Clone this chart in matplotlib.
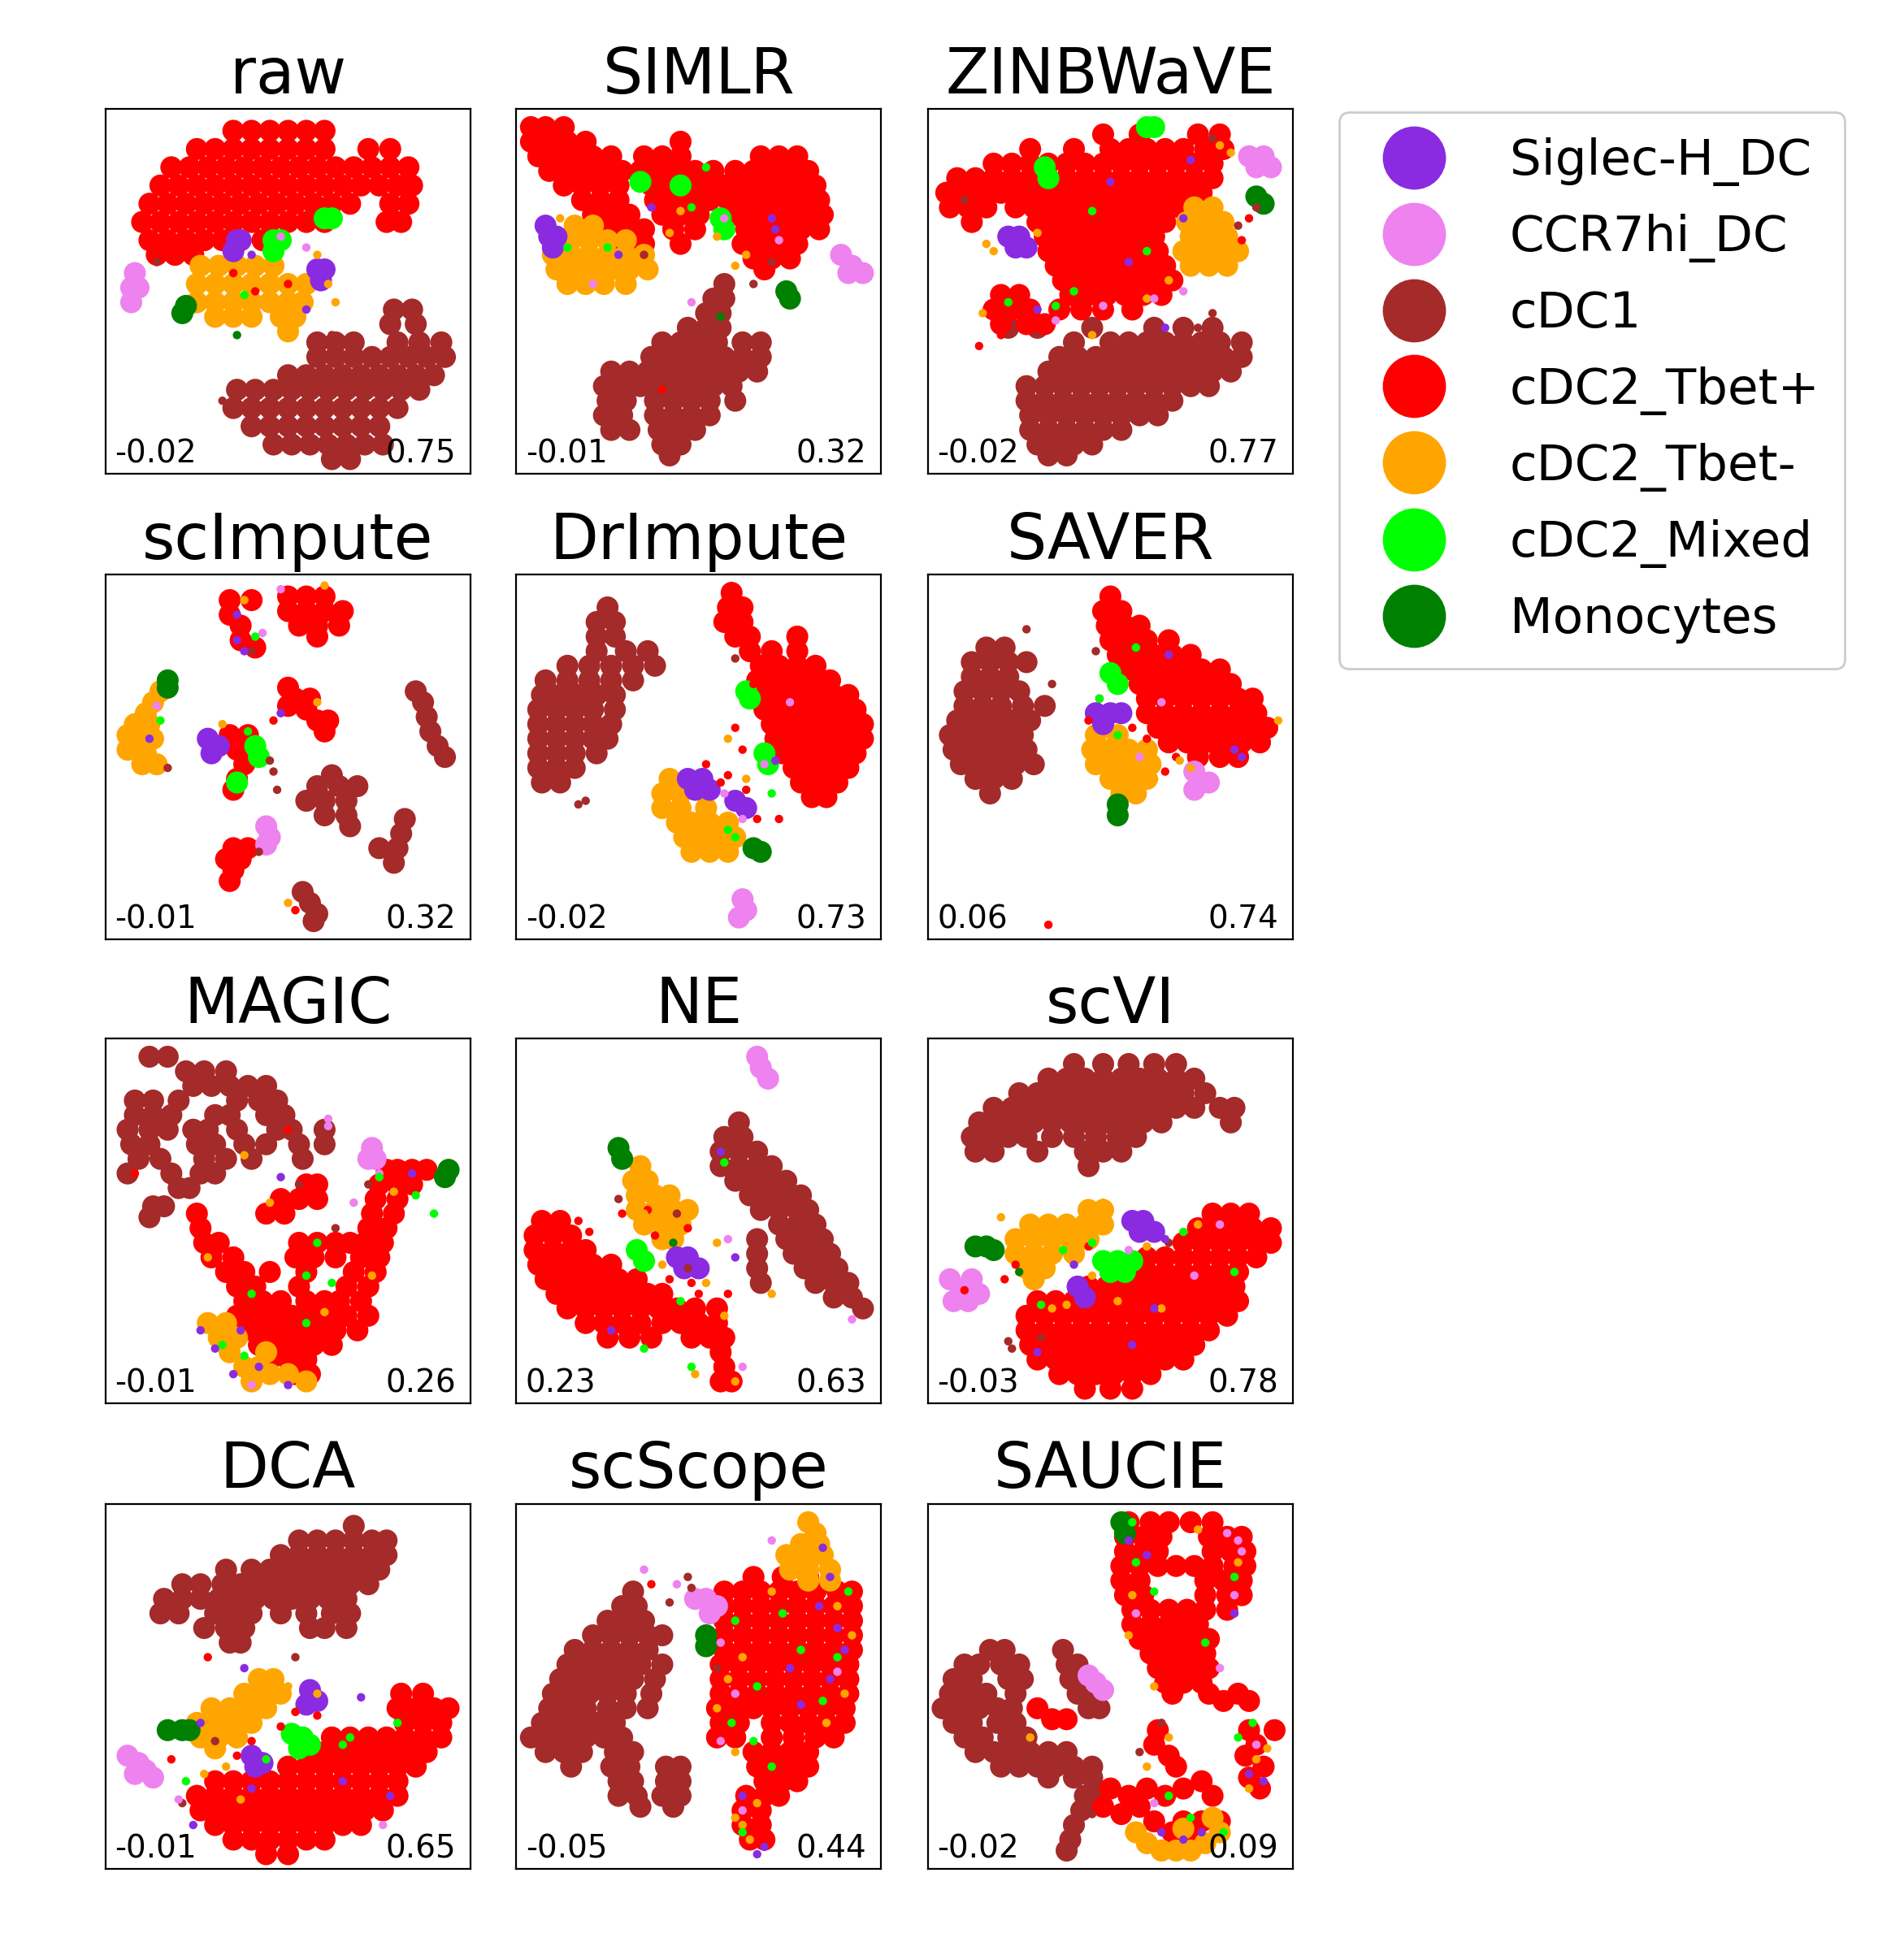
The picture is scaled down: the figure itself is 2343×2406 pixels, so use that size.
import matplotlib
matplotlib.use("Agg")
import matplotlib.pyplot as plt
from matplotlib.lines import Line2D

# cell types and their colours (legend order)
CLASSES = ["Siglec-H_DC", "CCR7hi_DC", "cDC1", "cDC2_Tbet+", "cDC2_Tbet-", "cDC2_Mixed", "Monocytes"]
KEYS = ["sig", "ccr", "c1", "tp", "tm", "mix", "mono"]
COLORS = ["blueviolet", "violet", "brown", "red", "orange", "lime", "green"]
DRAW_ORDER = ["c1", "tp", "tm", "sig", "ccr", "mix", "mono"]

METHODS = ["raw", "SIMLR", "ZINBWaVE", "scImpute", "DrImpute", "SAVER",
           "MAGIC", "NE", "scVI", "DCA", "scScope", "SAUCIE"]
LEFT_SCORES = ["-0.02", "-0.01", "-0.02", "-0.01", "-0.02", "0.06",
               "-0.01", "0.23", "-0.03", "-0.01", "-0.05", "-0.02"]
RIGHT_SCORES = ["0.75", "0.32", "0.77", "0.32", "0.73", "0.74",
                "0.26", "0.63", "0.78", "0.65", "0.44", "0.09"]

# embedding points, panel coords 0-100
# format "y: x x x; y: x x ..."  (dense cluster cores)
RAW = {
    "c1": "45: 79 84; 41: 78 85; 36: 58 63 68 80 86 92; 32: 58 63 68 73 78 83 88 93; 27: 50 55 60 65 70 75 80 85 90; 23: 36 41 46 51 56 61 66 71 76 81 86; 18: 35 40 45 50 55 60 65 70 75 80; 13: 40 45 50 55 60 65 70 75; 8: 46 51 56 61 66 71 76; 4: 62 67",
    "tp": "94: 35 40 45 50 55 60; 89: 25 30 35 40 45 50 55 60 72 78; 84: 18 23 28 33 38 43 48 53 58 63 68 73 78 83; 79: 15 20 25 30 35 40 45 50 55 60 65 70 75 80 84; 74: 12 17 22 27 32 37 42 47 52 57 62 67 78 83; 69: 10 15 20 25 30 35 40 45 50 55 60 77 81; 64: 12 17 22 27 32 37 43; 60: 14 19 24",
    "tm": "57: 26 31 36 41 46; 52: 25 30 35 40 45 50 55; 47: 25 30 35 40 45 50 54; 43: 30 35 40 48 52; 39: 50",
    "sig": "64: 36 37; 61: 35; 56: 58 60; 53: 59",
    "ccr": "55: 8; 51: 7 9; 47: 7",
    "mix": "70: 60 62; 64: 46 48; 61: 46",
    "mono": "46: 22; 44: 21",
}
SIMLR = {
    "c1": "52: 57; 48: 54 57; 44: 52 56; 40: 47 52 56; 36: 40 45 50 55 62 67; 32: 37 42 47 52 57 62 67; 28: 26 31 36 41 46 51 56 61 66; 24: 24 29 34 39 44 49 54 59; 20: 25 30 38 43 48 53 60; 16: 24 29 38 43 48 53; 12: 26 31 39 44 49; 8: 40 45; 5: 42",
    "tp": "95: 4 8 13; 91: 4 9 14 19 45; 87: 6 11 16 21 26 35 40 45 67 72 77; 83: 9 14 19 24 29 34 39 44 49 54 60 65 70 75 80; 79: 13 18 23 28 37 42 47 52 57 62 67 72 77 82; 75: 18 23 28 38 43 48 53 58 63 68 73 78 83; 71: 21 26 31 40 45 50 60 65 70 75 80 84; 67: 25 30 35 43 49 63 68 73 78 83; 63: 30 35 45 62 67 72 77; 59: 65 70 75; 56: 68",
    "tm": "68: 16 21; 64: 10 15 20 25 30; 60: 10 15 20 25 30 35; 56: 11 16 21 26 31 36; 52: 14 19 24 30",
    "sig": "68: 8; 65: 9 11; 62: 10",
    "ccr": "60: 89; 57: 92; 55: 95 91",
    "mix": "80: 34; 79: 45; 70: 56; 67: 57",
    "mono": "50: 74; 48: 75",
}
ZINBWAVE = {
    "c1": "40: 22 30 45 62 70 78; 36: 40 50 55 60 65 70 75 80 86; 32: 36 41 46 51 56 61 66 71 76 81 86; 28: 33 38 43 48 53 58 63 68 73 78 83; 24: 27 32 37 42 47 52 57 62 67 72 77; 20: 27 32 37 42 47 52 57 62 67; 16: 28 33 38 43 48 53 58 63; 12: 28 33 38 43 48 53; 8: 30 35 40 45; 5: 33 38",
    "tp": "93: 48 58 74 80; 89: 28 40 50 55 60 65 70 76 81; 85: 18 23 28 33 38 43 48 53 58 63 68 73 78; 81: 8 13 18 23 28 33 38 43 48 53 58 63 68 73 78; 77: 5 10 15 20 25 30 35 40 45 50 55 60 65 70 75; 73: 6 11 16 24 29 34 39 44 49 54 59 64 69; 69: 12 30 35 40 45 50 55 60 65; 65: 32 37 42 47 52 57 62; 61: 33 38 43 48 53 58 63; 57: 35 40 45 50 55 60 65; 53: 37 42 47 52 57 62 67; 49: 20 25 39 44 49 54 59 64; 45: 18 23 28 36 42 48 56; 41: 20 27 32",
    "tm": "73: 73 78; 69: 71 76 81; 65: 72 77 82; 61: 70 75 80 85; 57: 72 77 82",
    "sig": "65: 22 25; 62: 24 27",
    "ccr": "87: 88 92; 84: 90 94",
    "mix": "95: 60 62; 84: 32; 81: 33",
    "mono": "76: 90; 74: 92",
}
SCIMPUTE = {
    "c1": "68: 85; 65: 87; 61: 88; 57: 89; 53: 91; 50: 93; 45: 62; 42: 58 64 69; 38: 55 60 66; 34: 60 66; 31: 67; 33: 82; 29: 81; 25: 80 75; 21: 79; 13: 54; 10: 56; 7: 58; 5: 57",
    "tp": "93: 34 40; 89: 34; 86: 37; 82: 37; 80: 41; 94: 50 55 60; 90: 50 55 60 65; 86: 53 58 64; 83: 58; 69: 50; 66: 52 56; 63: 55; 60: 58 61; 57: 60; 64: 50; 56: 34 39; 52: 36; 48: 38; 44: 36; 41: 35; 25: 35 39; 22: 33 37; 19: 35; 16: 34",
    "tm": "68: 15; 65: 13; 62: 11; 59: 8 12; 56: 6; 55: 10 13; 52: 6; 51: 11; 48: 10 14",
    "sig": "55: 28; 51: 29; 53: 31",
    "ccr": "31: 44; 28: 45; 26: 44",
    "mix": "53: 41; 50: 42; 43: 36",
    "mono": "69: 17; 71: 17",
}
DRIMPUTE = {
    "c1": "91: 25; 87: 22 27; 83: 22 27; 79: 22 30 36; 75: 14 20 26 32 38; 71: 8 14 20 26 32; 67: 7 12 17 22 27; 63: 6 11 16 21 27; 59: 6 11 16 21 26; 55: 6 11 16 21 25; 51: 6 11 16 22; 47: 6 11 16; 43: 7 12",
    "tp": "95: 59; 91: 58 62; 87: 57 62; 83: 60 64 77; 79: 64 70 77; 75: 67 72 77 82; 71: 66 71 76 81 86; 67: 67 72 77 82 87 91; 63: 68 73 78 83 88 93; 59: 70 75 80 85 90 95; 55: 71 76 81 86 91 95; 51: 73 78 83 88 93; 47: 76 81 86 91; 43: 78 83 88; 39: 81 85",
    "tm": "44: 42; 40: 40 45; 36: 40 45 52; 32: 44 48 53 58; 28: 46 51 56 60; 24: 48 53 58",
    "sig": "44: 47 51; 41: 53 49; 38: 60; 36: 63",
    "ccr": "11: 62; 8: 63; 6: 61",
    "mix": "68: 63; 66: 64; 51: 68; 48: 69",
    "mono": "25: 65; 24: 67",
}
SAVER = {
    "c1": "80: 16 21; 76: 12 17 22 27; 72: 12 17 22; 68: 10 15 20 25; 64: 10 15 20 26 32; 60: 8 13 18 23 28; 56: 6 11 16 21 26; 52: 7 12 17 22 27; 48: 9 14 19 24 29; 44: 13 18 23; 40: 17",
    "tp": "94: 50; 90: 48 53; 86: 49 54 58; 82: 50 55 60 66; 78: 52 57 62 67 72; 74: 55 60 65 70 75 80; 70: 58 63 68 73 78 83; 66: 60 65 70 75 80 85 89; 62: 60 65 70 75 80 85 90; 58: 63 68 73 78 83 88 93; 54: 66 71 76 81 86 91; 50: 74 80 85",
    "tm": "56: 46 52; 52: 45 50 55 60; 48: 46 51 56 61; 44: 50 55 60; 40: 53 57",
    "sig": "62: 46 50 53; 59: 48",
    "ccr": "46: 73; 43: 75 77; 41: 73",
    "mix": "73: 50; 70: 52",
    "mono": "37: 52; 34: 52",
}
MAGIC = {
    "c1": "95: 12 17; 91: 22 27 33; 87: 24 29 34 39 44; 83: 8 13 20 36 42 47; 79: 8 13 18 30 34 44 49; 75: 6 12 17 24 28 36 47 51 60; 71: 7 12 25 30 38 44 53 60; 67: 9 15 27 33 40 54; 63: 6 18 26 30; 59: 20 23; 54: 13 16; 51: 12",
    "tp": "64: 77 80 84 88; 60: 55 58 75 80 84; 56: 48 53 58 74 80; 52: 25 44 49 73 79; 48: 26 72 77; 44: 27 31 53 58 63 67 71 76; 40: 29 35 52 57 63 70 75; 36: 33 38 45 55 68 74; 32: 36 41 53 66 72; 28: 38 43 48 55 60 64 70; 24: 36 41 46 51 56 61 66 72; 20: 38 43 48 53 58 63 69; 16: 42 47 52 57 62; 12: 45 50 55; 8: 52 56",
    "tm": "22: 28 33; 18: 31 36; 14: 34 44; 10: 38 42; 8: 45 50; 6: 55 40",
    "sig": "",
    "ccr": "70: 73; 67: 74 72",
    "mix": "",
    "mono": "64: 94; 62: 93",
}
NE = {
    "c1": "77: 61; 73: 57 62; 69: 56 61 66; 65: 56 61 66 70; 61: 60 65 70 74; 57: 64 69 74 78; 53: 67 72 77 80; 49: 72 77 82; 45: 66 74 79 84; 41: 66 76 81 86; 37: 66 79 84 88; 33: 67 82 87 91; 29: 87 92; 26: 95",
    "tp": "50: 7 12; 46: 5 10 15; 42: 5 10 15 19; 38: 6 11 16 21 26; 34: 8 13 18 23 28 33; 30: 11 16 21 26 31 36 40; 26: 14 19 24 29 34 39 44 49 55; 22: 19 24 29 34 40 45 50 55; 18: 25 31 37 48 53 57; 14: 56; 10: 57; 6: 56 59",
    "tm": "65: 34; 61: 32 36; 57: 33 38 42; 53: 33 38 43 47; 49: 35 40 45; 45: 40 43",
    "sig": "40: 44 47; 37: 50 46",
    "ccr": "95: 66; 92: 67; 89: 69",
    "mix": "42: 33; 39: 35",
    "mono": "70: 28; 67: 29",
}
SCVI = {
    "c1": "93: 40 48 55 62 68; 89: 33 38 43 48 53 58 63 68 73; 85: 25 30 35 40 45 50 55 60 65 70 76; 81: 18 23 28 33 38 43 48 53 58 63 68 73 80 84; 77: 14 19 24 29 34 39 44 49 54 59 64 83; 73: 12 17 22 27 34 40 46 52 57; 69: 13 18 30 43 48 53; 65: 44",
    "tp": "52: 78 83 88; 48: 74 79 84 89 94; 44: 70 75 80 85 90 94; 40: 60 65 70 75 80 85 90; 36: 50 55 60 65 70 75 80 85; 32: 44 49 54 59 64 69 74 79 84; 28: 30 35 40 45 50 55 60 65 70 75 80 85; 24: 27 32 37 42 47 52 57 62 67 72 77 82; 20: 27 32 37 42 47 52 57 62 67 72 77; 16: 28 33 38 43 48 53 58 63 68 73; 12: 30 35 40 45 50 55 60 65 70; 8: 36 41 46 51 56 61; 4: 43 50 56",
    "tm": "53: 44 48; 49: 28 33 38 43 48; 45: 24 29 34 39 44; 41: 24 29 34 40; 37: 27 32; 34: 29",
    "sig": "50: 56 59; 47: 58 62; 32: 41; 29: 43",
    "ccr": "34: 6 12; 31: 9; 28: 7 11; 30: 14",
    "mix": "39: 48 52 56; 36: 50 54",
    "mono": "43: 13 16; 42: 18",
}
DCA = {
    "c1": "94: 68; 90: 53 58 63 68 73 77; 86: 48 53 58 63 68 73 77; 82: 33 40 45 50 55 60 65 70 75; 78: 21 26 32 37 42 47 52 57 62 67 72; 74: 16 21 26 31 36 41 46 51 56 61 66; 70: 15 20 30 35 40 48 55 62 67; 66: 27 33 38 56 60 66; 62: 34 37",
    "tp": "48: 81 87; 44: 80 85 90 94; 40: 82 87 92; 36: 62 67 72 77 82 87 92; 32: 58 63 68 73 78 83 88; 28: 50 55 60 65 70 75 80 85; 24: 30 35 40 45 50 55 60 65 70 75 80; 20: 25 30 35 40 45 50 55 60 65 70 75 80; 16: 26 31 36 41 46 51 56 61 66 71 76; 12: 30 35 40 45 50 55 60 65 70; 8: 35 40 45 50 55 60; 4: 44 50",
    "tm": "52: 42 46; 48: 38 43 48; 44: 29 34 39 44; 40: 25 30 35 40; 36: 26 31 36; 33: 30",
    "sig": "49: 56; 46: 58; 45: 55; 31: 40; 29: 43; 28: 41",
    "ccr": "31: 6; 29: 9; 27: 11; 25: 13; 26: 8",
    "mix": "37: 51; 36: 54; 34: 56; 33: 53",
    "mono": "38: 17 21 23",
}
SCSCOPE = {
    "c1": "76: 32; 72: 29 33; 68: 25 30 35; 64: 21 26 31 36 40; 60: 16 21 26 31 36; 56: 14 19 24 29 34 40; 52: 12 17 22 27 32 38; 48: 10 15 20 25 30 37; 44: 9 14 19 25 30 36; 40: 7 12 17 22 27; 36: 4 9 14 19 24 29; 32: 8 13 18 27 32; 28: 15 26 31 41 45; 24: 28 32 41 45; 20: 28 33 40 45; 17: 34 43",
    "tp": "80: 65 73 80; 76: 57 62 67 72 77 82 88 92; 72: 57 62 67 72 77 82 87 92; 68: 57 62 67 72 77 82 87 92; 64: 57 62 67 72 77 82 87 92; 60: 57 62 67 72 77 82 87 92; 56: 56 61 66 71 76 81 86 91; 52: 56 61 66 71 76 81 86 91; 48: 56 61 66 71 76 81 86 91; 44: 55 60 65 70 75 80 85 90; 40: 56 61 70 75 80 85 90; 36: 55 60 70 76 82 87; 32: 65 70 75 80; 28: 66 71 76 80; 24: 68 73 77; 20: 63 68 72; 16: 62 67; 12: 62 67; 8: 64 68",
    "tm": "95: 80; 92: 82; 89: 78 83; 86: 74 79 84; 82: 75 80 86; 79: 80 86",
    "sig": "",
    "ccr": "74: 49 52; 72: 55; 70: 53",
    "mix": "",
    "mono": "64: 52; 61: 52",
}
SAUCIE = {
    "c1": "60: 17 21 37; 56: 10 14 20 25 38 41; 52: 7 12 22 26 39 44; 48: 6 11 16 24 41 46; 44: 4 9 14 19 23 44 47; 40: 7 12 19 24; 36: 10 15 22 27; 32: 13 18 23 28 33 38; 28: 20 25 30 35 40 45; 25: 33 40 45; 21: 48; 20: 43; 18: 46; 16: 42; 12: 40; 8: 39; 5: 38",
    "tp": "95: 55 61 66 72 78; 91: 54 59 64 77 82 86; 87: 54 59 63 78 83 87; 83: 53 58 63 68 73 78 84 87; 79: 53 58 76 81 86; 75: 54 59 76 82 86; 71: 56 61 66 71 76 82; 67: 56 61 66 70 74; 63: 58 63 68 73 77; 59: 61 66 71 76; 55: 63 68 73 77; 51: 65 70 75; 48: 67; 44: 30; 41: 34 38; 48: 77 85; 46: 81 88; 38: 63 88 95; 34: 62 90; 31: 66 87; 28: 68 92; 25: 88; 22: 50 60 70 91; 20: 55 65 78; 24: 75; 17: 48 58; 15: 53; 13: 62 70 75 80; 10: 67; 8: 73",
    "tm": "10: 57 80; 7: 60 76; 5: 64 68 72; 11: 70; 14: 78",
    "sig": "",
    "ccr": "53: 44; 51: 46; 49: 48",
    "mix": "",
    "mono": "95: 53; 92: 54",
}

# isolated / sprinkled cells, drawn small on top (same "y: x" format)
RAW_DOTS = {
    "tp": "55: 35; 50: 41; 52: 50", "sig": "45: 55; 60: 40", "tm": "60: 58; 47: 63; 52: 61",
    "ccr": "65: 48; 62: 55", "c1": "58: 14; 38: 62; 20: 32", "mono": "38: 36", "mix": "49: 38",
}
SIMLR_DOTS = {
    "sig": "70: 70; 67: 71; 73: 37; 60: 28", "tm": "66: 42; 60: 63; 72: 45; 65: 55; 57: 60; 58: 17; 70: 12",
    "mix": "62: 14 25; 84: 52; 73: 48", "ccr": "52: 21; 47: 48; 64: 72; 70: 57",
    "c1": "60: 35; 58: 70; 52: 65", "mono": "43: 56", "tp": "23: 40",
}
ZINBWAVE_DOTS = {
    "tm": "63: 16; 61: 18; 66: 30; 44: 15; 48: 60; 53: 66; 38: 45; 90: 80; 88: 83",
    "sig": "80: 50; 86: 72; 70: 70; 58: 55; 45: 30; 40: 65",
    "mix": "72: 45; 50: 40; 46: 35; 47: 22; 61: 60",
    "ccr": "50: 70; 48: 62; 46: 48; 42: 35",
    "c1": "92: 78; 75: 10; 68: 85; 40: 74; 44: 78; 73: 90", "tp": "35: 14; 38: 20; 64: 86; 70: 88",
}
SCIMPUTE_DOTS = {
    "c1": "49: 45; 46: 46; 41: 47; 24: 42; 47: 17; 79: 40", "tp": "8: 52; 60: 46",
    "sig": "89: 36; 82: 36; 79: 38; 55: 12; 62: 48", "mix": "83: 41; 60: 15; 57: 39",
    "ccr": "84: 43; 96: 48; 64: 14", "tm": "93: 38; 97: 60; 65: 58; 59: 32; 10: 50",
}
DRIMPUTE_DOTS = {
    "tp": "48: 52; 43: 56; 70: 65; 58: 60; 52: 62; 33: 66; 33: 72; 45: 58; 41: 63",
    "tm": "55: 58; 28: 56; 44: 63", "ccr": "33: 62; 65: 75; 48: 68; 40: 57",
    "mix": "30: 58; 28: 60; 40: 70", "c1": "42: 13; 37: 17; 77: 60; 38: 19", "sig": "49: 71",
}
SAVER_DOTS = {
    "tp": "4: 33; 58: 56; 55: 60; 46: 65; 50: 68; 66: 47; 60: 44",
    "mix": "66: 47; 56: 52; 80: 57", "sig": "78: 66; 52: 84; 50: 86",
    "tm": "49: 69; 47: 72; 60: 96; 44: 62", "c1": "79: 46; 85: 27; 70: 34", "ccr": "65: 64; 50: 58",
}
MAGIC_DOTS = {
    "sig": "15: 30; 20: 37; 10: 42; 5: 50; 20: 26; 8: 35; 63: 84; 62: 48",
    "mix": "16: 32; 13: 38; 22: 55; 62: 75; 57: 85; 52: 90; 35: 55; 33: 62; 30: 40; 44: 58",
    "tm": "68: 38; 40: 28; 25: 60; 35: 73; 55: 45; 58: 79",
    "ccr": "78: 61; 76: 61; 63: 75; 55: 68; 5: 40", "tp": "63: 8; 75: 50", "c1": "60: 53; 60: 72; 48: 63",
}
NE_DOTS = {
    "tp": "50: 17; 47: 20; 52: 29; 53: 36; 46: 38; 48: 47; 34: 42; 33: 48; 30: 50; 30: 58",
    "tm": "44: 55; 38: 40; 33: 52; 24: 57; 52: 35; 30: 70; 8: 49; 6: 60",
    "sig": "40: 60; 69: 56; 20: 26", "mix": "66: 57; 28: 45; 15: 35; 10: 48",
    "ccr": "45: 58; 10: 62; 23: 92", "c1": "52: 44; 56: 28; 37: 47", "mono": "44: 43",
}
SCVI_DOTS = {
    "tm": "55: 48; 27: 38; 26: 34; 43: 60; 49: 74; 51: 20; 35: 45; 28: 52; 26: 64",
    "mix": "27: 31; 42: 37; 47: 70; 36: 84; 44: 45", "sig": "45: 65; 38: 40; 26: 62; 14: 30; 16: 56",
    "tp": "43: 44; 36: 64; 46: 73; 31: 10; 34: 21; 38: 24", "c1": "17: 22; 15: 23; 18: 31; 44: 66",
    "ccr": "35: 73; 42: 55; 49: 80", "mono": "36: 25",
}
DCA_DOTS = {
    "sig": "55: 38; 40: 26; 47: 70; 22: 40; 24: 65; 12: 24; 20: 78",
    "tm": "19: 37; 26: 27; 50: 50; 48: 58; 28: 33", "mix": "36: 67; 34: 65; 30: 44; 24: 22; 40: 80",
    "tp": "58: 28; 43: 52; 39: 48; 42: 58; 35: 40; 31: 36; 30: 18", "c1": "58: 52; 18: 21; 35: 30",
    "ccr": "12: 76; 19: 20",
}
SCSCOPE_DOTS = {
    "sig": "72: 83; 66: 88; 60: 90; 55: 75; 52: 86; 4: 66; 6: 68; 88: 84; 80: 86; 45: 78; 20: 62",
    "mix": "70: 73; 68: 60; 60: 78; 50: 66; 46: 84; 40: 59; 35: 65; 76: 91; 28: 70; 10: 62; 58: 88",
    "tm": "72: 88; 52: 58; 58: 62; 48: 90; 44: 55; 76: 70; 12: 62; 8: 64; 14: 60; 18: 66; 64: 92; 40: 85; 32: 60",
    "ccr": "62: 56; 54: 88; 48: 60; 82: 35; 16: 62; 78: 44; 90: 70; 35: 56",
    "c1": "80: 47; 77: 48; 73: 42; 55: 55", "tp": "78: 37",
}
SAUCIE_DOTS = {
    "tm": "30: 90; 33: 93; 28: 60; 36: 66; 84: 85; 93: 74; 75: 56; 50: 62; 64: 55; 36: 28; 22: 88",
    "sig": "10: 64; 8: 70; 26: 88; 24: 92; 10: 75; 90: 55; 70: 84; 86: 60",
    "mix": "84: 57; 76: 62; 80: 84; 62: 76; 36: 85; 20: 66; 14: 72; 40: 89; 95: 56; 10: 81",
    "ccr": "90: 85; 87: 86; 92: 82; 75: 84; 55: 80; 70: 57; 18: 62; 34: 90",
    "c1": "15: 45; 40: 64; 32: 58",
}

PANELS = [RAW, SIMLR, ZINBWAVE, SCIMPUTE, DRIMPUTE, SAVER, MAGIC, NE, SCVI, DCA, SCSCOPE, SAUCIE]
PANEL_DOTS = [RAW_DOTS, SIMLR_DOTS, ZINBWAVE_DOTS, SCIMPUTE_DOTS, DRIMPUTE_DOTS, SAVER_DOTS,
              MAGIC_DOTS, NE_DOTS, SCVI_DOTS, DCA_DOTS, SCSCOPE_DOTS, SAUCIE_DOTS]


def read_points(spec):
    xs, ys = [], []
    for row in spec.split(";"):
        if ":" not in row:
            continue
        y, xvals = row.split(":")
        for x in xvals.split():
            xs.append(float(x))
            ys.append(float(y))
    return xs, ys


color_of = dict(zip(KEYS, COLORS))

fig = plt.figure(figsize=(11.715, 12.03), dpi=200)

lefts = [0.0555, 0.2712, 0.4874]
bottoms = [0.7577, 0.5195, 0.2822, 0.0441]
w, h = 0.1916, 0.1866

for i, name in enumerate(METHODS):
    ax = fig.add_axes([lefts[i % 3], bottoms[i // 3], w, h])
    for k in DRAW_ORDER:
        xs, ys = read_points(PANELS[i].get(k, ""))
        if xs:
            ax.scatter(xs, ys, s=95, c=color_of[k], edgecolors="none")
    for k in DRAW_ORDER:
        xs, ys = read_points(PANEL_DOTS[i].get(k, ""))
        if xs:
            ax.scatter(xs, ys, s=14, c=color_of[k], edgecolors="none")
    ax.set_xlim(0, 100)
    ax.set_ylim(0, 100)
    ax.set_xticks([])
    ax.set_yticks([])
    ax.set_title(name, fontsize=28, pad=7)
    ax.text(0.025, 0.012, LEFT_SCORES[i], transform=ax.transAxes, fontsize=14,
            ha="left", va="bottom")
    ax.text(0.96, 0.012, RIGHT_SCORES[i], transform=ax.transAxes, fontsize=14,
            ha="right", va="bottom")

handles = [Line2D([], [], marker="o", linestyle="none", markersize=27,
                  markerfacecolor=c, markeredgecolor=c) for c in COLORS]
fig.legend(handles, CLASSES, loc="upper left", bbox_to_anchor=(0.7035, 0.9425),
           borderaxespad=0, fontsize=22, labelspacing=0.56, handletextpad=0.93,
           borderpad=0.5, framealpha=1, edgecolor="#cccccc")

fig.savefig("out.png", dpi=200)
